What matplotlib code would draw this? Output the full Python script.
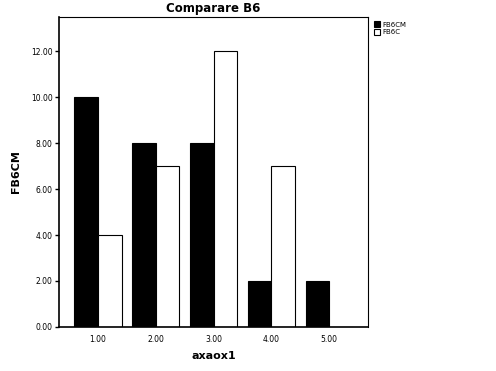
import matplotlib
matplotlib.use("Agg")
import matplotlib.pyplot as plt
import numpy as np
from matplotlib.ticker import FormatStrFormatter

categories = [1.0, 2.0, 3.0, 4.0, 5.0]
fb6cm = [10, 8, 8, 2, 2]
fb6c = [4, 7, 12, 7, 0]
series_names = ["FB6CM", "FB6C"]
yticks = [0, 2, 4, 6, 8, 10, 12]

fig = plt.figure(figsize=(4.96, 3.71), dpi=100)
ax = fig.add_axes([0.119, 0.119, 0.623, 0.835])

x = np.arange(1, len(categories) + 1)
w = 0.41
ax.bar(x - w / 2, fb6cm, w, color="black", edgecolor="black", linewidth=0.8,
       label=series_names[0])
ax.bar(x + w / 2, fb6c, w, color="white", edgecolor="black", linewidth=0.8,
       label=series_names[1])

ax.set_xlim(0.33, 5.67)
ax.set_ylim(0, 13.5)
ax.set_xticks(x)
ax.set_xticklabels([f"{c:.2f}" for c in categories])
ax.set_yticks(yticks)
ax.yaxis.set_major_formatter(FormatStrFormatter("%.2f"))
ax.tick_params(axis="both", labelsize=5.5, length=3, width=1)
ax.tick_params(axis="y", pad=1.5)
ax.tick_params(axis="x", length=0, pad=6)

for s in ["left", "bottom"]:
    ax.spines[s].set_linewidth(1.2)
for s in ["top", "right"]:
    ax.spines[s].set_linewidth(0.8)

ax.set_title("Comparare B6", fontsize=8.5, fontweight="bold", pad=4)
ax.set_xlabel("axaox1", fontsize=8, fontweight="bold", labelpad=5)
ax.set_ylabel("FB6CM", fontsize=8, fontweight="bold", labelpad=7)

ax.legend(loc="upper left", bbox_to_anchor=(1.005, 1.0), fontsize=5,
          frameon=False, handlelength=0.9, handleheight=0.9,
          handletextpad=0.3, labelspacing=0.2, borderaxespad=0.2)

fig.savefig("out.png", dpi=100)
